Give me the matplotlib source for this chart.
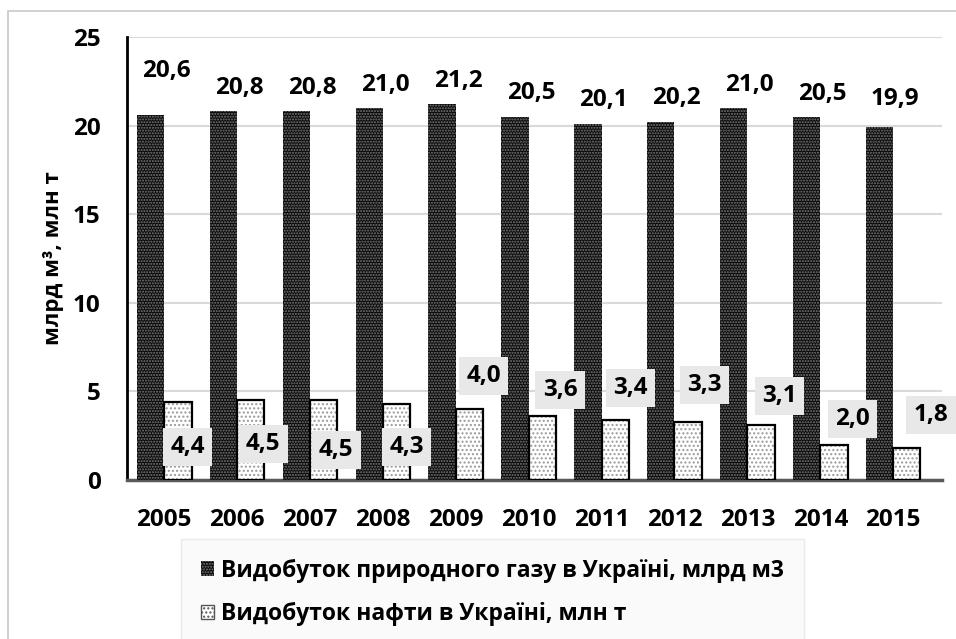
import matplotlib
matplotlib.use("Agg")
import matplotlib.pyplot as plt
import numpy as np
from matplotlib.patches import Patch, Rectangle

plt.rcParams['font.family'] = ['Open Sans', 'DejaVu Sans']
plt.rcParams['font.weight'] = 'bold'

years = ['2005', '2006', '2007', '2008', '2009', '2010', '2011', '2012', '2013', '2014', '2015']
gas = [20.6, 20.8, 20.8, 21.0, 21.2, 20.5, 20.1, 20.2, 21.0, 20.5, 19.9]
oil = [4.4, 4.5, 4.5, 4.3, 4.0, 3.6, 3.4, 3.3, 3.1, 2.0, 1.8]
gas_name = 'Видобуток природного газу в Україні, млрд м3'
oil_name = 'Видобуток нафти в Україні, млн т'
ylabel = 'млрд м³, млн т'
yticks = [0, 5, 10, 15, 20, 25]

# label placement (as in the original, labels were dragged manually)
gas_label_y = [23.08, 22.12, 22.12, 22.29, 22.52, 21.84, 21.45, 21.56, 22.29, 21.78, 21.48]
oil_label_y = [1.86, 2.03, 1.69, 1.86, 5.87, 5.08, 5.19, 5.36, 4.74, 3.44, 3.67]
oil_label_dx = [0.32, 0.36, 0.36, 0.33, 0.38, 0.43, 0.40, 0.41, 0.44, 0.44, 0.52]

W, H = 956, 639
fig = plt.figure(figsize=(W / 100, H / 100), dpi=100)
ax = fig.add_axes([127 / W, 1 - 480 / H, (942 - 127) / W, (480 - 37) / H])

x = np.arange(len(years))
bw = 0.375
ax.bar(x - bw / 2, gas, bw, facecolor='#0a0a0a', edgecolor='#7a7a7a', hatch='......', linewidth=0, zorder=3)
ax.bar(x + bw / 2, oil, bw, facecolor='white', edgecolor='#9a9a9a', hatch='....', linewidth=0, zorder=3)
ax.bar(x + bw / 2, oil, bw, fill=False, edgecolor='black', linewidth=1.6, zorder=4)

fs = 17.5
for i, v in enumerate(gas):
    ax.text(x[i] + 0.03, gas_label_y[i], f'{v:.1f}'.replace('.', ','), ha='center', va='center',
            fontsize=fs, fontweight='bold', zorder=5)
for i, v in enumerate(oil):
    ax.text(x[i] + oil_label_dx[i], oil_label_y[i], f'{v:.1f}'.replace('.', ','), ha='center', va='center',
            fontsize=fs, fontweight='bold', zorder=6, clip_on=False,
            bbox=dict(boxstyle='square,pad=0.3', facecolor='#e8e8e8', edgecolor='none'))

ax.set_xlim(-0.51, 10.67)
ax.set_ylim(0, 25)
ax.set_yticks(yticks)
ax.set_yticklabels([str(t) for t in yticks], fontsize=fs, fontweight='bold')
ax.set_xticks(x)
ax.set_xticklabels(years, fontsize=fs, fontweight='bold')
ax.tick_params(axis='y', length=0, pad=19)
ax.tick_params(axis='x', length=0, pad=20)
ax.yaxis.grid(True, color='#d9d9d9', linewidth=1.5, zorder=0)
ax.set_axisbelow(True)
for s in ['top', 'right']:
    ax.spines[s].set_visible(False)
ax.spines['left'].set_color('black')
ax.spines['left'].set_linewidth(2)
ax.spines['bottom'].set_color('#595959')
ax.spines['bottom'].set_linewidth(2.5)
ax.set_ylabel(ylabel, fontsize=16, fontweight='bold')
ax.yaxis.set_label_coords(-(127 - 64) / (942 - 127), 0.5)

handles = [Patch(facecolor='#0a0a0a', edgecolor='#7a7a7a', hatch='......', linewidth=0),
           Patch(facecolor='white', edgecolor='#555555', hatch='....', linewidth=1)]
leg = fig.legend(handles, [gas_name, oil_name], loc='upper left',
                 bbox_to_anchor=(188 / W, 1 - 546 / H), frameon=True,
                 handlelength=0.6, handleheight=0.6, handletextpad=0.3, labelspacing=0.85,
                 borderpad=0.55, borderaxespad=0, prop={'weight': 'bold', 'size': 16.5})
leg.get_frame().set_facecolor('#f9f9f9')
leg.get_frame().set_edgecolor('#e6e6e6')
leg.get_frame().set_boxstyle('square')

fig.add_artist(Rectangle((8 / W, -0.1), 1.2, 1 - 11 / H + 0.1, transform=fig.transFigure,
                         fill=False, edgecolor='#c8c8c8', linewidth=1.2))

fig.savefig('out.png', dpi=100)
